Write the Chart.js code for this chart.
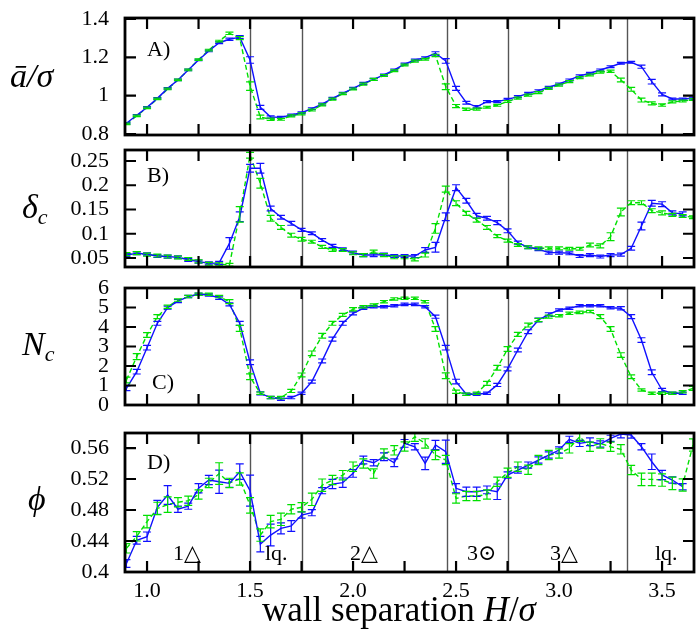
<!DOCTYPE html>
<html>
<head>
<meta charset="utf-8">
<script src="https://cdn.jsdelivr.net/npm/chart.js@4.4.1/dist/chart.umd.min.js"></script>
<style>
  body { margin: 0; background: #fff; }
  #wrap { position: relative; width: 697px; height: 629px; font-family: "Liberation Serif", "DejaVu Serif", serif; color: #000; }
  canvas { position: absolute; left: 0; }
  .lbl { position: absolute; font-size: 22px; line-height: 1; white-space: nowrap; z-index: 2; }
  .ytitle { position: absolute; font-size: 34px; line-height: 1; white-space: nowrap; font-style: italic; z-index: 2; }
  .ytitle sub { font-size: 22px; vertical-align: -6px; }
</style>
</head>
<body>
<div id="wrap">
  <canvas id="panelA"></canvas>
  <canvas id="panelB"></canvas>
  <canvas id="panelC"></canvas>
  <canvas id="panelD"></canvas>

  <div class="ytitle" style="left:10px; top:59px;">ā/σ</div>
  <div class="ytitle" style="left:22px; top:190px;">δ<sub>c</sub></div>
  <div class="ytitle" style="left:22px; top:327px;">N<sub>c</sub></div>
  <div class="ytitle" style="left:28px; top:482px;">ϕ</div>

  <div class="lbl" style="left:147px; top:38px;">A)</div>
  <div class="lbl" style="left:147px; top:164px;">B)</div>
  <div class="lbl" style="left:152px; top:371px;">C)</div>
  <div class="lbl" style="left:147px; top:451px;">D)</div>

  <div class="lbl" style="left:173px; top:542px;">1△</div>
  <div class="lbl" style="left:265px; top:542px;">lq.</div>
  <div class="lbl" style="left:350px; top:542px;">2△</div>
  <div class="lbl" style="left:467px; top:542px;">3⊙</div>
  <div class="lbl" style="left:550px; top:542px;">3△</div>
  <div class="lbl" style="left:655px; top:542px;">lq.</div>

  <div class="lbl" style="left:262px; top:592px; font-size:35px;">wall separation <i>H</i>/<i>σ</i></div>
</div>

<script>
// wall separation grid (H/sigma)
const hGrid = [0.9,0.95,1.0,1.05,1.1,1.15,1.2,1.25,1.3,1.35,
  1.4,1.45,1.5,1.55,1.6,1.65,1.7,1.75,1.8,1.85,
  1.9,1.95,2.0,2.05,2.1,2.15,2.2,2.25,2.3,2.35,
  2.4,2.45,2.5,2.55,2.6,2.65,2.7,2.75,2.8,2.85,
  2.9,2.95,3.0,3.05,3.1,3.15,3.2,3.25,3.3,3.35,
  3.4,3.45,3.5,3.55,3.6,3.65];

// phase boundaries
const phaseBounds = [1.5, 1.75, 2.455, 2.75, 3.33];

const xTickMarks = [1.0,1.25,1.5,1.75,2.0,2.25,2.5,2.75,3.0,3.25,3.5];
const xLabelTicks = [1.0,1.5,2.0,2.5,3.0,3.5];
const xTickLabels = ['1.0','1.5','2.0','2.5','3.0','3.5'];

const aTicks = [0.8,1,1.2,1.4];
const aTickLabels = ['0.8','1','1.2','1.4'];
const bTicks = [0.05,0.1,0.15,0.2,0.25];
const bTickLabels = ['0.05','0.1','0.15','0.2','0.25'];
const cTicks = [0,1,2,3,4,5,6];
const cTickLabels = ['0','1','2','3','4','5','6'];
const dTicks = [0.4,0.44,0.48,0.52,0.56];
const dTickLabels = ['0.4','0.44','0.48','0.52','0.56'];

// A) mean spacing a/sigma
const aBlue = [0.856,0.898,0.939,0.986,1.038,1.082,1.134,1.186,1.233,1.276,
  1.294,1.305,1.186,0.939,0.889,0.887,0.899,0.911,0.932,0.956,
  0.986,1.012,1.038,1.064,1.085,1.108,1.134,1.165,1.186,1.198,
  1.221,1.181,1.038,0.963,0.942,0.969,0.969,0.981,0.995,1.012,
  1.026,1.044,1.061,1.082,1.103,1.117,1.134,1.151,1.169,1.174,
  1.151,1.073,1.007,0.983,0.983,0.987];
const aBlueErr = [.004,.004,.004,.004,.004,.004,.004,.004,.004,.005,
  .006,.008,.017,.010,.006,.005,.005,.005,.005,.005,
  .005,.005,.005,.005,.005,.005,.005,.005,.005,.005,
  .008,.012,.010,.007,.006,.005,.005,.005,.005,.005,
  .005,.005,.005,.005,.005,.005,.005,.005,.005,.005,
  .008,.012,.008,.005,.005,.005];
const aGreen = [0.853,0.895,0.937,0.983,1.035,1.082,1.134,1.188,1.238,1.285,
  1.325,1.300,1.050,0.889,0.877,0.877,0.895,0.905,0.925,0.952,
  0.982,1.010,1.035,1.060,1.085,1.105,1.130,1.160,1.180,1.190,
  1.210,1.047,0.946,0.929,0.930,0.940,0.950,0.970,0.987,1.003,
  1.016,1.038,1.055,1.073,1.094,1.108,1.123,1.127,1.082,1.033,
  0.977,0.960,0.951,0.968,0.972,0.980];
const aGreenErr = [.004,.004,.004,.004,.004,.004,.004,.004,.004,.004,
  .006,.008,.022,.010,.006,.005,.005,.005,.005,.005,
  .005,.005,.005,.005,.005,.005,.005,.005,.005,.005,
  .006,.015,.008,.006,.005,.005,.005,.005,.005,.005,
  .005,.005,.005,.005,.005,.005,.005,.006,.010,.010,
  .010,.008,.006,.005,.005,.005];

// B) delta_c
const bBlue = [0.056,0.0597,0.0576,0.054,0.0527,0.0514,0.046,0.0424,0.039,0.040,
  0.080,0.135,0.235,0.235,0.152,0.134,0.1215,0.108,0.101,0.087,
  0.075,0.068,0.061,0.056,0.056,0.057,0.054,0.054,0.054,0.0665,
  0.072,0.135,0.195,0.168,0.137,0.132,0.123,0.106,0.0816,0.072,
  0.068,0.061,0.061,0.0597,0.054,0.056,0.053,0.056,0.057,0.070,
  0.116,0.163,0.161,0.143,0.141];
const bBlueErr = [.003,.003,.003,.003,.003,.003,.003,.003,.003,.003,
  .012,.010,.008,.010,.005,.004,.004,.003,.003,.003,
  .003,.003,.003,.003,.003,.003,.003,.003,.003,.005,
  .010,.008,.006,.005,.005,.004,.004,.004,.003,.003,
  .003,.003,.003,.003,.003,.003,.003,.003,.003,.004,
  .008,.006,.005,.004,.004];
const bGreen = [0.058,0.060,0.057,0.055,0.053,0.051,0.048,0.043,0.038,0.037,
  0.036,0.140,0.262,0.204,0.132,0.113,0.097,0.0886,0.0836,0.073,
  0.0665,0.0665,0.0597,0.056,0.063,0.056,0.0514,0.0514,0.047,0.056,
  0.111,0.192,0.163,0.142,0.128,0.113,0.095,0.0857,0.0768,0.072,
  0.070,0.070,0.070,0.069,0.069,0.0768,0.075,0.094,0.145,0.164,
  0.164,0.1475,0.143,0.139,0.1365,0.134];
const bGreenErr = [.003,.003,.003,.003,.003,.003,.003,.003,.003,.003,
  .003,.016,.006,.010,.006,.004,.004,.004,.003,.003,
  .003,.003,.003,.003,.003,.003,.003,.003,.003,.004,
  .010,.006,.005,.004,.004,.004,.003,.003,.003,.003,
  .003,.003,.003,.003,.003,.004,.004,.008,.008,.004,
  .004,.004,.004,.003,.003,.003];

// C) N_c
const cBlue = [0.855,1.71,2.94,4.19,4.99,5.33,5.56,5.68,5.64,5.50,
  5.16,4.19,2.19,0.60,0.38,0.30,0.38,0.60,1.20,2.26,
  3.38,4.19,4.70,4.96,5.04,5.04,5.09,5.16,5.16,5.04,
  4.53,2.94,1.20,0.55,0.55,0.60,1.03,1.85,2.82,3.76,
  4.36,4.65,4.87,4.96,5.09,5.09,5.09,4.99,4.96,4.53,
  3.33,1.68,0.77,0.60,0.60];
const cBlueErr = [.12,.12,.12,.10,.08,.08,.06,.06,.06,.08,
  .08,.10,.12,.08,.06,.06,.06,.06,.08,.10,
  .10,.10,.08,.06,.06,.06,.06,.06,.06,.06,
  .08,.12,.12,.06,.06,.06,.08,.10,.10,.10,
  .10,.08,.06,.06,.06,.06,.06,.06,.08,.10,
  .12,.12,.08,.06,.06];
const cGreen = [1.28,2.48,3.59,4.53,5.04,5.38,5.56,5.68,5.68,5.56,
  5.30,3.93,1.45,0.60,0.38,0.38,0.72,1.54,2.65,3.55,
  4.19,4.62,4.91,5.04,5.13,5.30,5.44,5.47,5.47,5.30,
  3.90,1.50,0.68,0.55,0.60,1.11,1.91,2.87,3.62,4.10,
  4.36,4.53,4.58,4.70,4.75,4.79,4.53,3.90,2.56,1.45,
  0.77,0.60,0.60,0.60,0.68,0.85];
const cGreenErr = [.15,.15,.12,.10,.08,.06,.06,.06,.06,.06,
  .10,.15,.15,.06,.06,.06,.08,.10,.12,.12,
  .10,.08,.08,.06,.06,.06,.06,.06,.06,.06,
  .12,.15,.08,.06,.06,.10,.12,.12,.10,.10,
  .08,.08,.06,.06,.06,.06,.10,.12,.12,.10,
  .06,.06,.06,.06,.06,.10];

// D) packing fraction phi
const dBlue = [.411,.441,.4456,.4835,.4994,.481,.485,.508,.5187,.5165,
  .5144,.5295,.505,.436,.4477,.4563,.4594,.4735,.4766,.505,
  .5135,.5153,.5273,.5445,.541,.5488,.541,.566,.5617,.5402,
  .5639,.5552,.508,.5036,.5036,.506,.5036,.5252,.5316,.538,
  .5445,.551,.5574,.5712,.566,.5681,.5652,.5725,.578,.5768,
  .5617,.5423,.5252,.5187,.510];
const dBlueErr = [.005,.005,.006,.009,.012,.004,.004,.006,.006,.015,
  .005,.010,.020,.010,.014,.007,.007,.004,.004,.004,
  .006,.006,.005,.005,.004,.005,.005,.005,.004,.008,
  .006,.015,.006,.006,.006,.005,.010,.004,.004,.004,
  .004,.004,.004,.004,.004,.005,.004,.004,.005,.004,
  .004,.010,.006,.004,.004];
const dGreen = [.4305,.446,.465,.482,.487,.490,.492,.500,.515,.527,
  .515,.520,.486,.4477,.465,.468,.481,.4835,.4938,.512,
  .5187,.525,.536,.540,.527,.553,.557,.562,.5746,.566,
  .551,.5445,.495,.498,.498,.500,.5165,.528,.536,.532,
  .5445,.551,.553,.5596,.5746,.5617,.566,.5617,.5583,.5316,
  .5196,.5196,.5187,.5144,.5123,.5639];
const dGreenErr = [.006,.006,.008,.008,.010,.006,.006,.006,.006,.014,
  .006,.008,.010,.008,.008,.008,.006,.006,.008,.008,
  .006,.006,.006,.006,.006,.006,.006,.006,.006,.006,
  .006,.006,.006,.006,.006,.006,.006,.006,.006,.006,
  .006,.006,.006,.006,.006,.006,.006,.006,.006,.006,
  .008,.008,.008,.008,.008,.008];

const xMin = 0.893, xMax = 3.655;
const blue = '#1010ff', green = '#00e000';
const tickFont = { family: '"Liberation Serif", "DejaVu Serif", serif', size: 22 };
const pad = 10;

const panels = [
  { id: 'panelA', top: 18, bottom: 135, yMin: 0.795, yMax: 1.405, ticks: aTicks, labels: aTickLabels,
    series: [[aBlue, aBlueErr], [aGreen, aGreenErr]] },
  { id: 'panelB', top: 150, bottom: 267, yMin: 0.0314, yMax: 0.2727, ticks: bTicks, labels: bTickLabels,
    series: [[bBlue, bBlueErr], [bGreen, bGreenErr]] },
  { id: 'panelC', top: 288, bottom: 405, yMin: 0, yMax: 6, ticks: cTicks, labels: cTickLabels,
    series: [[cBlue, cBlueErr], [cGreen, cGreenErr]] },
  { id: 'panelD', top: 433, bottom: 572, yMin: 0.4, yMax: 0.5794, ticks: dTicks, labels: dTickLabels,
    series: [[dBlue, dBlueErr], [dGreen, dGreenErr]] }
];

// gray vertical lines at the phase boundaries
const phaseLines = {
  id: 'phaseLines',
  beforeDatasetsDraw(chart) {
    const { ctx, chartArea: a, scales: { x } } = chart;
    ctx.save();
    ctx.strokeStyle = '#555';
    ctx.lineWidth = 1.4;
    phaseBounds.forEach(h => {
      const px = Math.round(x.getPixelForValue(h)) + 0.5;
      ctx.beginPath();
      ctx.moveTo(px, a.top);
      ctx.lineTo(px, a.bottom);
      ctx.stroke();
    });
    ctx.restore();
  }
};

// vertical error bars with caps
const errorBars = {
  id: 'errorBars',
  afterDatasetsDraw(chart) {
    const { ctx, chartArea: a, scales: { y } } = chart;
    ctx.save();
    ctx.beginPath();
    ctx.rect(a.left, a.top - 1, a.width, a.height + 2);
    ctx.clip();
    chart.data.datasets.forEach((ds, di) => {
      const meta = chart.getDatasetMeta(di);
      ctx.strokeStyle = ds.borderColor;
      ctx.lineWidth = 1.2;
      ctx.setLineDash([]);
      meta.data.forEach((pt, i) => {
        const v = ds.data[i].y, e = ds.errors[i];
        const y1 = y.getPixelForValue(v - e), y2 = y.getPixelForValue(v + e);
        ctx.beginPath();
        ctx.moveTo(pt.x, y1); ctx.lineTo(pt.x, y2);
        ctx.moveTo(pt.x - 4, y1); ctx.lineTo(pt.x + 4, y1);
        ctx.moveTo(pt.x - 4, y2); ctx.lineTo(pt.x + 4, y2);
        ctx.stroke();
      });
    });
    ctx.restore();
  }
};

// heavy frame with inward ticks on all four sides
const frame = {
  id: 'frame',
  afterDraw(chart) {
    const { ctx, chartArea: a, scales: { x, y } } = chart;
    const len = 11;
    ctx.save();
    ctx.strokeStyle = '#000';
    ctx.lineWidth = 2.2;
    xTickMarks.forEach(v => {
      const px = x.getPixelForValue(v);
      ctx.beginPath();
      ctx.moveTo(px, a.bottom); ctx.lineTo(px, a.bottom - len);
      ctx.moveTo(px, a.top); ctx.lineTo(px, a.top + len);
      ctx.stroke();
    });
    y.ticks.forEach(t => {
      const py = y.getPixelForValue(t.value);
      ctx.beginPath();
      ctx.moveTo(a.left, py); ctx.lineTo(a.left + len, py);
      ctx.moveTo(a.right, py); ctx.lineTo(a.right - len, py);
      ctx.stroke();
    });
    ctx.lineWidth = 2.8;
    ctx.strokeRect(a.left, a.top, a.right - a.left, a.bottom - a.top);
    ctx.restore();
  }
};

// keep the plot area fixed: no extra room for overhanging tick labels
function fixPadding(s) {
  s.paddingTop = 0;
  s.paddingBottom = 0;
  s.paddingLeft = 0;
  s.paddingRight = 0;
}

panels.forEach((p, idx) => {
  const last = idx === panels.length - 1;
  const axisH = last ? 52 : 0;
  const canvas = document.getElementById(p.id);
  canvas.width = 697;
  canvas.height = pad + (p.bottom - p.top) + axisH + pad;
  canvas.style.top = (p.top - pad) + 'px';

  const datasets = p.series.map(([vals, errs], si) => ({
    data: vals.map((v, i) => ({ x: hGrid[i], y: v })),
    errors: errs,
    borderColor: si === 0 ? blue : green,
    borderWidth: 1.4,
    borderDash: si === 0 ? [] : [5, 3],
    pointRadius: 0,
    tension: 0,
    fill: false
  }));

  new Chart(canvas, {
    type: 'line',
    data: { datasets },
    options: {
      responsive: false,
      animation: false,
      devicePixelRatio: 1,
      layout: { padding: { top: pad, bottom: pad, left: 0, right: 3 } },
      plugins: { legend: { display: false }, tooltip: { enabled: false } },
      scales: {
        x: {
          type: 'linear',
          min: xMin,
          max: xMax,
          display: last,
          grid: { display: false, drawTicks: false },
          border: { display: false },
          afterBuildTicks: s => { s.ticks = xLabelTicks.map(v => ({ value: v })); },
          afterFit: s => { s.height = axisH; fixPadding(s); },
          ticks: {
            font: tickFont,
            color: '#000',
            padding: 6,
            maxRotation: 0,
            autoSkip: false,
            callback: (v, i) => xTickLabels[i]
          }
        },
        y: {
          min: p.yMin,
          max: p.yMax,
          grid: { display: false, drawTicks: false },
          border: { display: false },
          afterBuildTicks: s => { s.ticks = p.ticks.map(v => ({ value: v })); },
          afterFit: s => { s.width = 125; fixPadding(s); },
          ticks: {
            font: tickFont,
            color: '#000',
            padding: 16,
            autoSkip: false,
            callback: (v, i) => p.labels[i]
          }
        }
      }
    },
    plugins: [phaseLines, errorBars, frame]
  });
});
</script>
</body>
</html>
